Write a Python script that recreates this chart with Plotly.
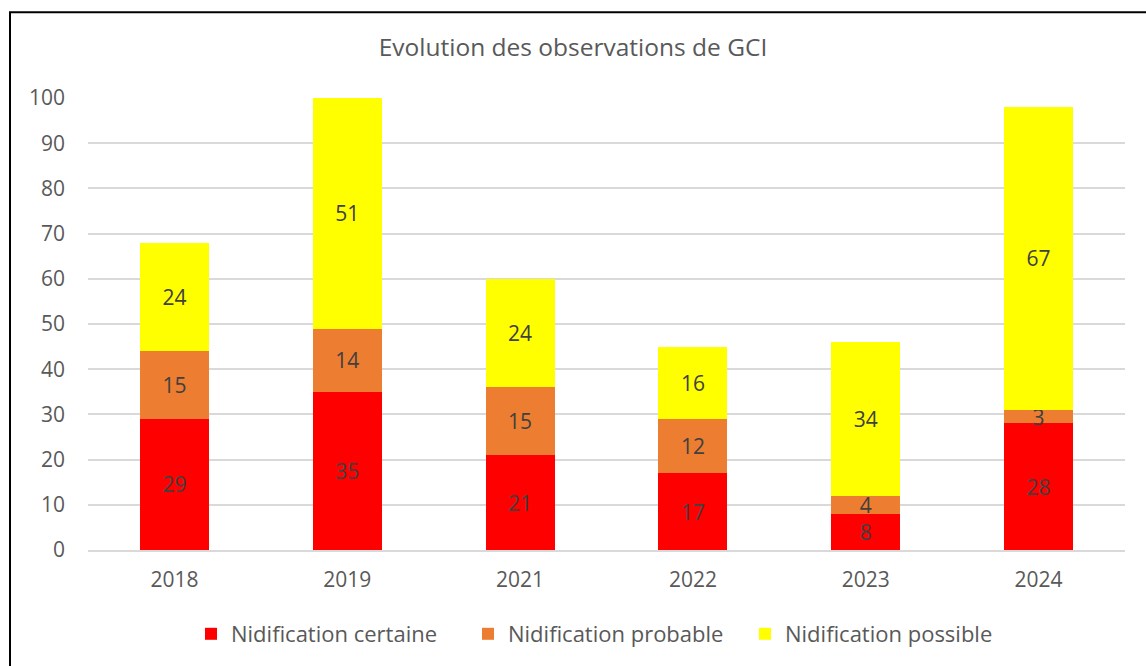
import plotly.graph_objects as go

years = ["2018", "2019", "2021", "2022", "2023", "2024"]
certaine = [29, 35, 21, 17, 8, 28]
probable = [15, 14, 15, 12, 4, 3]
possible = [24, 51, 24, 16, 34, 67]
series_names = ["Nidification certaine", "Nidification probable", "Nidification possible"]
colors = ["#FF0000", "#ED7D31", "#FFFF00"]

FONT = "Open Sans"
LBL = 21
fig = go.Figure()
for name, vals, col in zip(series_names, [certaine, probable, possible], colors):
    fig.add_trace(go.Bar(
        x=years, y=vals, name=name, marker=dict(color=col, line=dict(width=0)),
        text=[str(v) for v in vals], textposition="inside", insidetextanchor="middle",
        textangle=0,
        textfont=dict(family=FONT, size=LBL, color="#404040"), constraintext="none",
    ))

L, R, T, B = 88, 21, 98, 115
W, H = 1146, 666
pw, ph = W - L - R, H - T - B

fig.update_layout(
    barmode="stack", bargap=0.6,
    width=W, height=H,
    margin=dict(l=L, r=R, t=T, b=B),
    paper_bgcolor="white", plot_bgcolor="white",
    title=dict(text="Evolution des observations de GCI", x=0.5, xanchor="center",
               y=1 - 47 / H, yanchor="middle",
               font=dict(family=FONT, size=24.5, color="#595959")),
    font=dict(family=FONT, color="#595959"),
    legend=dict(orientation="h", x=0.5, xanchor="center", y=(ph - (634 - T)) / ph,
                yanchor="middle", font=dict(family=FONT, size=22, color="#595959"),
                traceorder="normal", itemwidth=30, entrywidth=232, entrywidthmode="pixels"),
    xaxis=dict(showgrid=False, showline=True, linecolor="#D9D9D9", linewidth=1.5,
               tickfont=dict(family=FONT, size=21, color="#595959"), ticks="",
               ticklabelstandoff=10),
    yaxis=dict(range=[0, 100], dtick=10, showgrid=True, gridcolor="#D9D9D9", gridwidth=1.5,
               zeroline=False, showline=False,
               tickfont=dict(family=FONT, size=21, color="#595959"),
               ticklabelstandoff=22),
    uniformtext=dict(mode="show", minsize=LBL),
)

fig.add_shape(type="rect", xref="paper", yref="paper",
              x0=(10 - L) / pw, x1=(W + 5 - L) / pw,
              y0=(ph + T - (H + 5)) / ph, y1=(ph + T - 12) / ph,
              line=dict(color="black", width=2), fillcolor="rgba(0,0,0,0)", layer="below")

fig.write_html("out.html", config={"displayModeBar": False})
with open("out.html", encoding="utf-8") as f:
    html = f.read()
html = html.replace("<head>", "<head><style>html,body{margin:0;padding:0;overflow:hidden}</style>", 1)
with open("out.html", "w", encoding="utf-8") as f:
    f.write(html)
